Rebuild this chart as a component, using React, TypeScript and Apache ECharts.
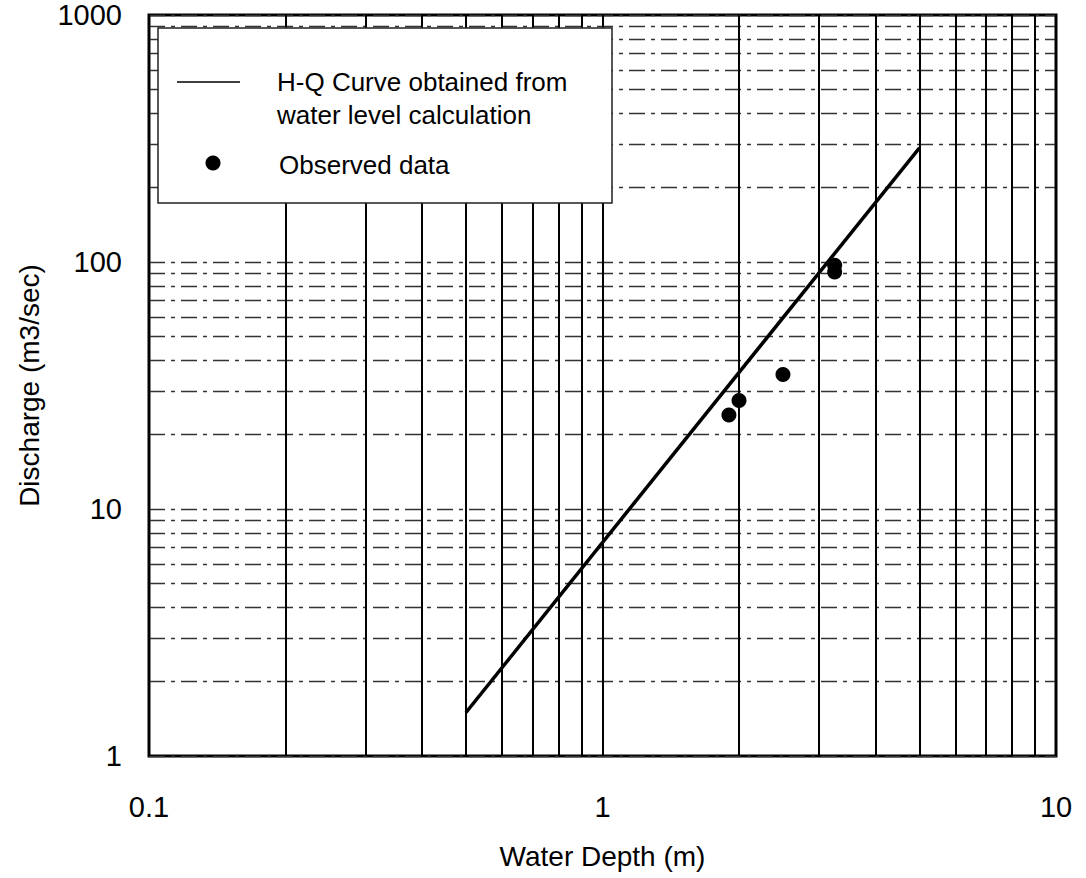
import React, { useEffect, useRef } from "react";
import * as echarts from "echarts";

// H-Q rating curve (straight line on log-log axes)
const curveDepth = [0.5, 5];
const curveDischarge = [1.5, 290];

// Observed gauge readings
const obsDepth = [1.9, 2.0, 2.5, 3.25, 3.25];
const obsDischarge = [24, 27.5, 35, 97, 91];

const curveLabel = ["H-Q Curve obtained from", "water level calculation"];
const obsLabel = "Observed data";
const xAxisTitle = "Water Depth (m)";
const yAxisTitle = "Discharge (m3/sec)";

const FONT = "'Liberation Sans', Arial, Helvetica, sans-serif";
const LEGEND_FONT = `26px ${FONT}`;

export default function App() {
  const ref = useRef<HTMLDivElement>(null);

  useEffect(() => {
    if (!ref.current) return;
    const chart = echarts.init(ref.current, null, { renderer: "svg" });

    const curve = curveDepth.map((h, i) => [h, curveDischarge[i]]);
    const obs = obsDepth.map((h, i) => [h, obsDischarge[i]]);
    const plainNumber = (v: number) => String(v);

    chart.setOption({
      animation: false,
      backgroundColor: "#ffffff",
      textStyle: { fontFamily: FONT, color: "#000" },
      grid: {
        left: 149,
        right: 30,
        top: 15,
        bottom: 122,
        show: true,
        borderColor: "#000",
        borderWidth: 3,
        backgroundColor: "transparent",
      },
      xAxis: {
        type: "log",
        logBase: 10,
        min: 0.1,
        max: 10,
        name: xAxisTitle,
        nameLocation: "middle",
        nameGap: 86,
        nameTextStyle: { fontSize: 28, fontFamily: FONT, color: "#000" },
        axisLine: { show: false },
        axisTick: { show: false },
        axisLabel: {
          fontSize: 29,
          fontFamily: FONT,
          color: "#000",
          margin: 36,
          formatter: plainNumber,
        },
        splitLine: { show: true, lineStyle: { color: "#000", width: 2 } },
        minorTick: { show: false, splitNumber: 9 },
        minorSplitLine: { show: true, lineStyle: { color: "#000", width: 2 } },
      },
      yAxis: {
        type: "log",
        logBase: 10,
        min: 1,
        max: 1000,
        name: yAxisTitle,
        nameLocation: "middle",
        nameGap: 106,
        nameRotate: 90,
        nameTextStyle: { fontSize: 28, fontFamily: FONT, color: "#000" },
        axisLine: { show: false },
        axisTick: { show: false },
        axisLabel: {
          fontSize: 29,
          fontFamily: FONT,
          color: "#000",
          margin: 27,
          formatter: plainNumber,
        },
        splitLine: {
          show: true,
          lineStyle: { color: "#333", width: 1.3, type: [16, 6, 4, 6] },
        },
        minorTick: { show: false, splitNumber: 9 },
        minorSplitLine: {
          show: true,
          lineStyle: { color: "#333", width: 1.3, type: [16, 6, 4, 6] },
        },
      },
      series: [
        {
          name: curveLabel.join(" "),
          type: "line",
          data: curve,
          showSymbol: false,
          symbol: "none",
          lineStyle: { color: "#000", width: 3.5 },
          z: 5,
        },
        {
          name: obsLabel,
          type: "scatter",
          data: obs,
          symbol: "circle",
          symbolSize: 15,
          itemStyle: { color: "#000", opacity: 1 },
          z: 6,
        },
      ],
      graphic: [
        {
          type: "rect",
          z: 100,
          shape: { x: 158, y: 28, width: 454, height: 175 },
          style: { fill: "#fff", stroke: "#222", lineWidth: 1.5 },
        },
        {
          type: "line",
          z: 101,
          shape: { x1: 177, y1: 82, x2: 240, y2: 82 },
          style: { stroke: "#000", lineWidth: 1.5 },
        },
        {
          type: "text",
          z: 101,
          x: 277,
          y: 82,
          style: {
            text: curveLabel[0],
            font: LEGEND_FONT,
            fill: "#000",
            verticalAlign: "middle",
          },
        },
        {
          type: "text",
          z: 101,
          x: 277,
          y: 115,
          style: {
            text: curveLabel[1],
            font: LEGEND_FONT,
            fill: "#000",
            verticalAlign: "middle",
          },
        },
        {
          type: "circle",
          z: 101,
          shape: { cx: 213, cy: 163, r: 7.5 },
          style: { fill: "#000" },
        },
        {
          type: "text",
          z: 101,
          x: 279,
          y: 165,
          style: {
            text: obsLabel,
            font: LEGEND_FONT,
            fill: "#000",
            verticalAlign: "middle",
          },
        },
      ],
    });

    return () => chart.dispose();
  }, []);

  return (
    <div
      ref={ref}
      style={{ position: "fixed", left: 0, top: 0, width: 1086, height: 878 }}
    />
  );
}
